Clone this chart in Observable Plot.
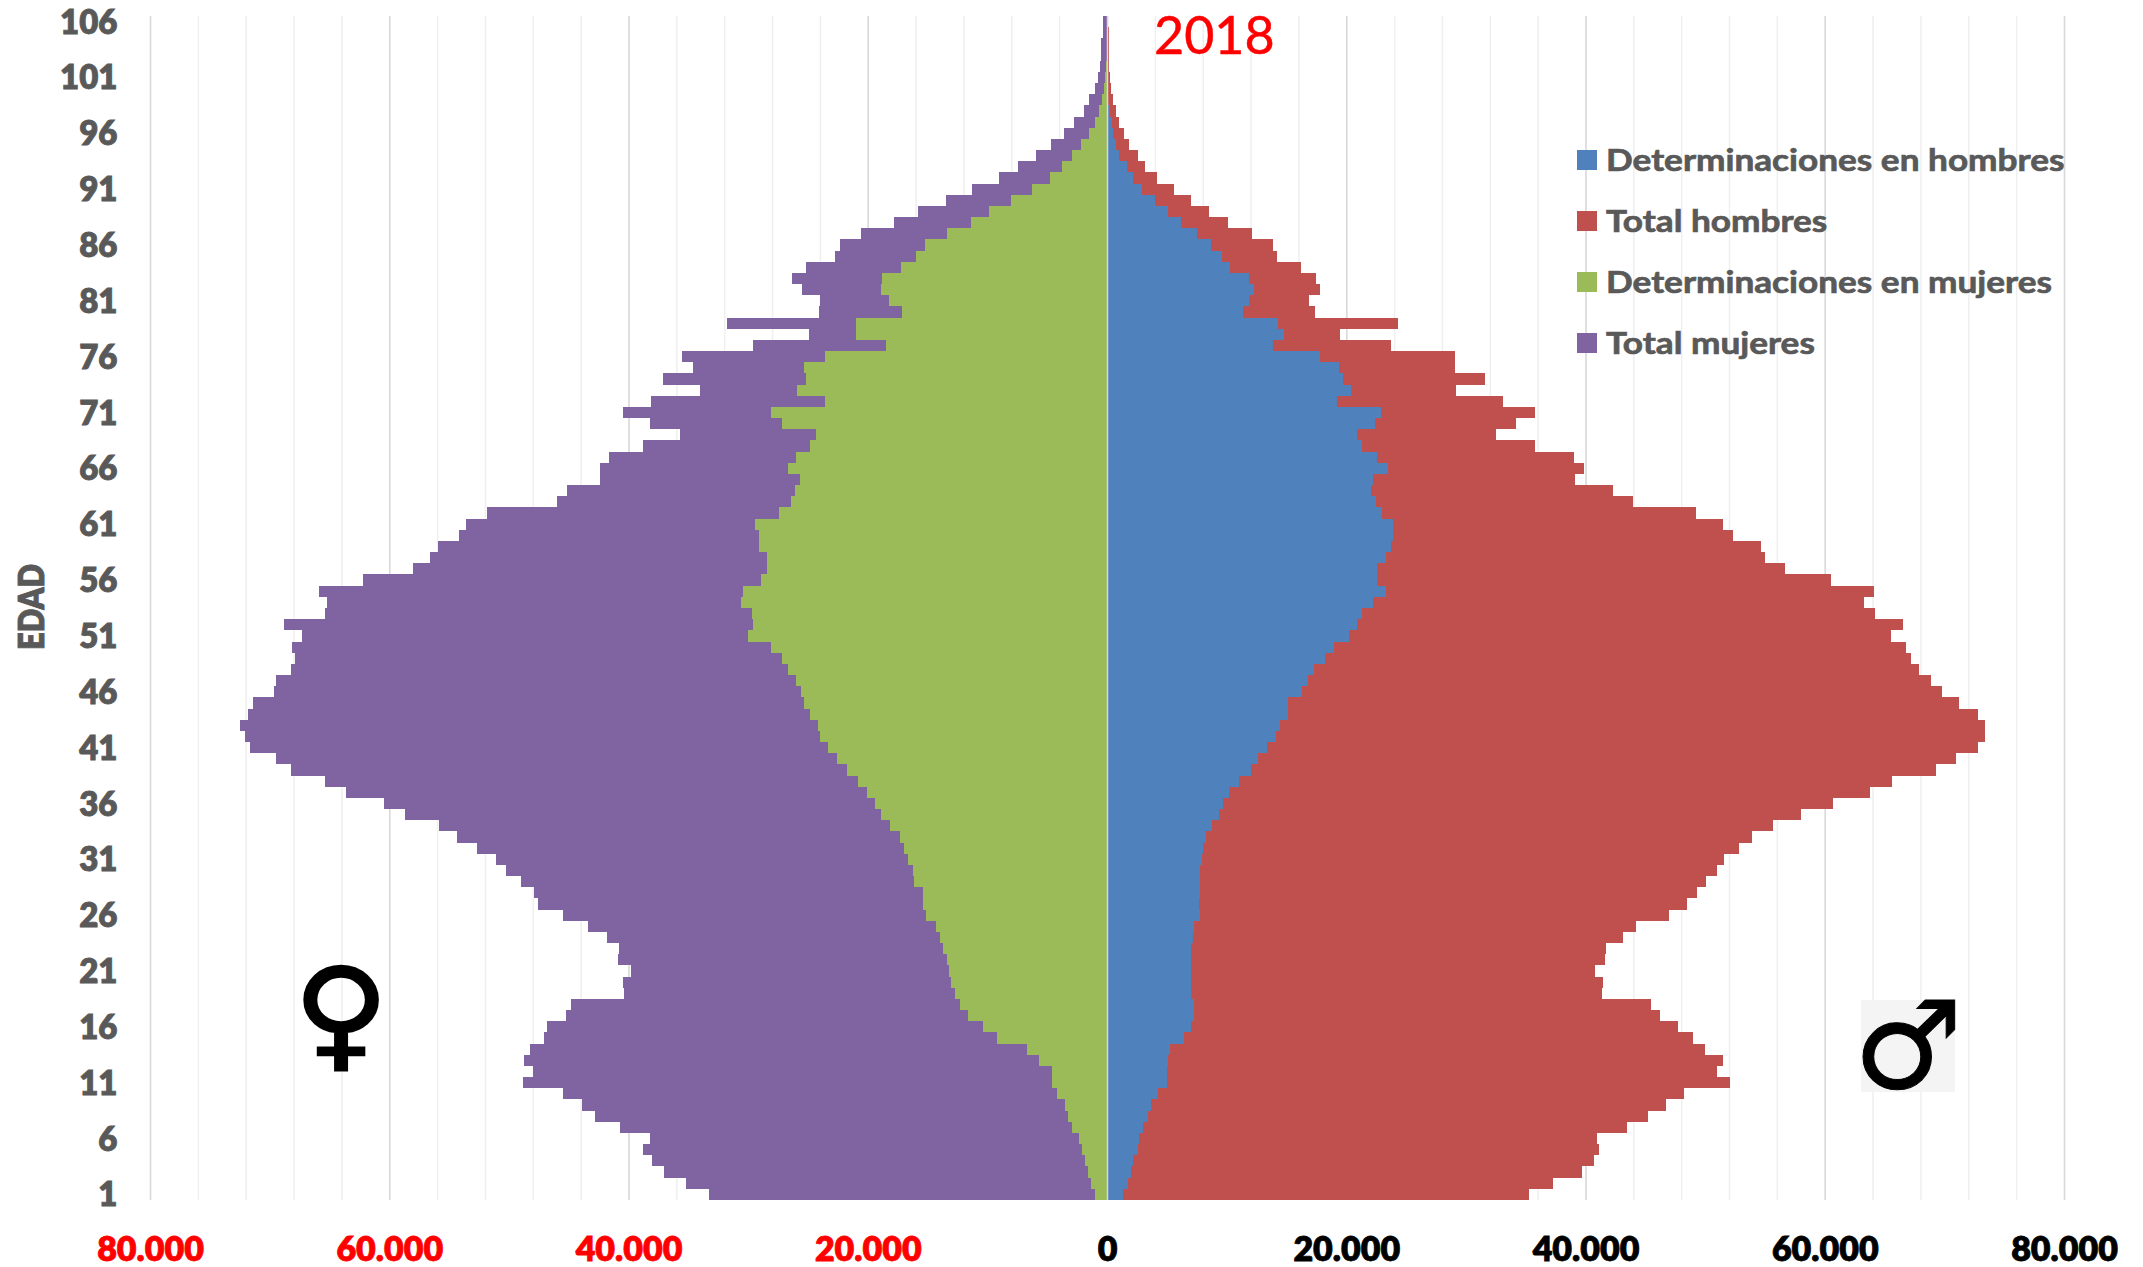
<!DOCTYPE html>
<html lang="es">
<head>
<meta charset="utf-8">
<title>Pirámide 2018</title>
<script src="https://cdn.jsdelivr.net/npm/d3@7"></script>
<script src="https://cdn.jsdelivr.net/npm/@observablehq/plot@0.6"></script>
<style>
  html, body { margin: 0; padding: 0; background: #fff; }
  #chart { position: relative; width: 2143px; height: 1267px; overflow: hidden; font-family: Lato, sans-serif; }
  #chart svg { display: block; }
  .ov { position: absolute; white-space: nowrap; line-height: 1; }
  .leg { font-weight: 700; font-size: 31px; color: #595959; transform-origin: left center; transform: scaleX(1.135); -webkit-text-stroke: 0.7px #595959; }
  .sw { position: absolute; width: 20px; height: 20px; }
</style>
</head>
<body>
<div id="chart"></div>
<script>
// Ages from 1 to 106; each array below is listed from age 1 upward.
const ages = d3.range(1, 107);

const totalMujeres = [
  33300,35200,37000,38000,38800,38200,40700,42800,43900,45500,
  48800,48000,48700,48200,47100,46800,45200,44800,40400,40500,
  39800,40900,40800,41800,43400,45500,47600,47900,49000,50200,
  51100,52700,54300,55800,58700,60400,63600,65400,68200,69500,
  71600,72100,72500,71800,71400,69600,69500,68200,67900,68100,
  67300,68800,65400,65200,65900,62200,58000,56600,55900,54200,
  53600,51800,46000,45100,42400,42400,41600,38800,35700,38200,
  40500,38100,34000,37100,34600,35500,29600,24900,31800,24100,
  24000,25500,26300,25200,22700,22300,20600,17800,15800,13500,
  11300,9000,7400,5900,4700,3560,2800,1950,1530,970,
  780,580,500,500,360,360
];
const detMujeres = [
  1000,1300,1600,1800,2100,2300,2900,3300,3500,4200,
  4600,4600,5700,6700,9200,10400,11600,12300,12700,13000,
  13200,13400,13700,14000,14300,15100,15400,15400,16100,16200,
  16600,17000,17300,18100,18900,19400,20100,20800,21700,22600,
  23300,24000,24200,24800,25300,25600,26000,26700,27200,28100,
  30000,29600,29700,30600,30400,28900,28400,28400,29100,29100,
  29400,27400,26400,26100,25700,26700,26000,24800,24300,27200,
  28100,23600,25900,25200,25300,23600,18500,21000,21000,17100,
  18200,18900,18800,17200,16000,15200,13400,11400,9850,8000,
  6300,4800,3800,2920,2170,1530,1000,640,450,250,
  140,100,0,0,0,0
];
const totalHombres = [
  35300,37300,39700,40700,41100,41000,43500,45200,46700,48200,
  52100,51000,51500,50000,49000,47700,46200,45500,41400,41500,
  40800,41600,41700,43100,44200,47000,48500,49300,50100,51000,
  51600,52800,53900,55700,58000,60700,63800,65600,69300,71000,
  72800,73400,73400,72800,71200,69800,68900,67900,67200,66800,
  65500,66500,64200,63300,64100,60500,56700,55000,54700,52300,
  51500,49200,44000,42300,39100,39900,39000,35800,32500,34200,
  35800,33100,29200,31600,29100,29100,23700,19500,24300,17400,
  16900,17800,17500,16200,14200,13900,12100,10100,8500,7000,
  5600,4200,3200,2600,1870,1450,1000,780,470,360,
  250,140,140,140,140,0
];
const detHombres = [
  1300,1750,2000,2200,2600,2700,3000,3400,3700,4300,
  5000,5000,5100,5300,6400,7000,7300,7300,7000,7000,
  7000,7000,7000,7200,7300,7750,7700,7750,7750,7800,
  7900,8000,8300,8800,9400,9700,10200,11000,12000,12600,
  13400,14100,14500,15100,15100,16300,16800,17300,18200,19000,
  20200,20900,21300,22200,23300,22600,22600,23300,23700,23900,
  23900,23000,22500,22100,22200,23500,22600,21300,20900,22400,
  22900,19200,20400,19700,19400,17800,13900,14800,14300,11400,
  11900,12300,11900,10300,9600,8700,7500,6200,5100,4000,
  2900,2140,1640,1030,780,470,400,220,0,0,
  0,0,0,0,0,0
];
const xTicks = d3.range(-80000, 80001, 20000);
const gridMinor = d3.range(-80000, 80001, 4000);
const ageTicks = ages.filter(a => a % 5 === 1);

const series = [
  { name: "Determinaciones en hombres", color: "#4f81bd" },
  { name: "Total hombres", color: "#c0504d" },
  { name: "Determinaciones en mujeres", color: "#9bbb59" },
  { name: "Total mujeres", color: "#8064a2" }
];
const fmt = v => v === 0 ? "0" : d3.format(",")(Math.abs(v)).replace(",", ".");
const crisp = { shapeRendering: "crispEdges" };

const plot = Plot.plot({
  width: 2143,
  height: 1267,
  marginLeft: 150,
  marginRight: 79,
  marginTop: 16,
  marginBottom: 67,
  style: { fontFamily: "Lato, sans-serif", background: "#fff" },
  x: { domain: [-80000, 80000] },
  y: { type: "band", domain: ages.slice().reverse(), padding: 0, round: false },
  marks: [
    Plot.ruleX(gridMinor, { stroke: "#efefef", strokeWidth: 1.5 }),
    Plot.ruleX(xTicks, { stroke: "#d9d9d9", strokeWidth: 1.5 }),
    Plot.barX(ages, { y: d => d, x1: 0, x2: (d, i) => -totalMujeres[i], fill: series[3].color, ...crisp }),
    Plot.barX(ages, { y: d => d, x1: 0, x2: (d, i) => -detMujeres[i], fill: series[2].color, ...crisp }),
    Plot.barX(ages, { y: d => d, x1: 0, x2: (d, i) => totalHombres[i], fill: series[1].color, ...crisp }),
    Plot.barX(ages, { y: d => d, x1: 0, x2: (d, i) => detHombres[i], fill: series[0].color, ...crisp }),
    Plot.ruleX([0], { stroke: "#d9d9d9", strokeWidth: 1.5 }),
    Plot.axisX({ ticks: xTicks.filter(v => v < 0), tickSize: 0, tickPadding: 36, tickFormat: fmt, label: null, fill: "#ff0000", fontSize: 34, fontWeight: 800 }),
    Plot.axisX({ ticks: xTicks.filter(v => v >= 0), tickSize: 0, tickPadding: 36, tickFormat: fmt, label: null, fill: "#000000", fontSize: 34, fontWeight: 800 }),
    Plot.axisY({ ticks: ageTicks, tickSize: 0, tickPadding: 33, label: null, fill: "#595959", fontSize: 33, fontWeight: 800, dy: 1 })
  ]
});

// Thicken axis text so it has the reference's heavy look.
plot.querySelectorAll('g[aria-label$="tick label"]').forEach(g => {
  g.setAttribute("stroke", g.getAttribute("fill"));
  g.setAttribute("stroke-width", "0.8");
});

const chart = document.getElementById("chart");
chart.appendChild(plot);

function overlay(text, css, cls = "ov") {
  const el = document.createElement("div");
  el.className = cls;
  el.textContent = text;
  el.style.cssText = css;
  chart.appendChild(el);
  return el;
}
overlay("2018", "left:1154px;top:8px;font-size:52px;color:#ff0000;font-family:Lato,sans-serif;-webkit-text-stroke:0.5px #ff0000;");
overlay("EDAD", "left:31px;top:607px;font-size:31px;font-weight:800;color:#595959;-webkit-text-stroke:0.8px #595959;transform:translate(-50%,-50%) rotate(-90deg) scaleY(1.15);");

// Legend
const legY = [160, 221, 282, 343];
series.forEach((s, i) => {
  const sw = document.createElement("div");
  sw.className = "sw";
  sw.style.cssText = `left:1577px;top:${legY[i] - 10}px;background:${s.color};`;
  chart.appendChild(sw);
  overlay(s.name, `left:1606px;top:${legY[i] - 16}px;`, "ov leg");
});

// Sex symbols
const boxM = document.createElement("div");
boxM.style.cssText = "position:absolute;left:1861px;top:1000px;width:94px;height:92px;background:#f4f4f4;";
chart.appendChild(boxM);
overlay("♀", "left:341px;top:1014px;font-family:'DejaVu Sans';font-size:100px;color:#000;-webkit-text-stroke:2px #000;transform:translate(-50%,-50%) scale(1.3,1.22);");
overlay("♂", "left:1908px;top:1046px;font-family:'DejaVu Sans';font-size:122px;color:#000;-webkit-text-stroke:1px #000;transform:translate(-50%,-50%);");
</script>
</body>
</html>
